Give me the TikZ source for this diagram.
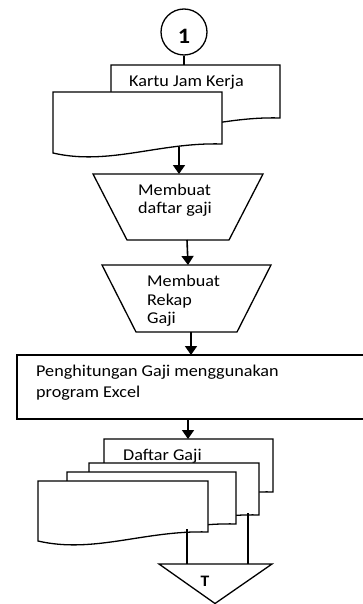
\documentclass[tikz,border=0pt]{standalone}
\usepackage{fontspec}
\setmainfont{Carlito}[FakeStretch=1.1]
\usetikzlibrary{arrows.meta}

% document symbol: left, top, right, bottom at the right side
\newcommand{\docshape}[4]{%
  \draw[shape line,fill=white] (#1,#2) -- (#3,#2) -- (#3,#4)
    .. controls ({#3-0.37*(#3-#1)},{#4-2}) and ({#1+0.33*(#3-#1)},{#4+22}) .. (#1,{#4+9}) -- cycle;}

\tikzset{
  shape line/.style={line width=1.3pt,line join=miter},
  flow/.style={line width=1.6pt,-{Triangle[length=9pt,width=12pt]}},
  txt/.style={anchor=base west,inner sep=0pt,align=left},
}

\begin{document}
\begin{tikzpicture}[x=1pt,y=-1pt,font=\fontsize{16.5}{18.5}\selectfont]
\useasboundingbox (0,0) rectangle (363,604);
% connector
\node[circle,draw,line width=1.3pt,minimum size=46pt,inner sep=0pt,
  text height=24pt,text depth=0pt,font=\fontsize{22}{22}\selectfont\bfseries] (con1) at (184,32) {1};
% Kartu Jam Kerja
\docshape{111}{65}{280}{118}
\node[txt] (kartu) at (129,87) {Kartu Jam Kerja};
\docshape{53}{92}{222}{144}
\coordinate (kartu top) at (184,65);
\coordinate (kartu out) at (179,147);
\draw[shape line] (con1) -- (kartu top);
% proses manual (base = last line)
\draw[shape line] (93,174) -- (263,174) -- (229,240) -- (127,240) -- cycle;
\node[txt,font=\fontsize{16.5}{17.5}\selectfont] (daftar) at (138,213.2) {Membuat\\daftar gaji};
\draw[shape line] (102,265) -- (271,265) -- (237,332) -- (136,332) -- cycle;
\node[txt,font=\fontsize{16.5}{18.3}\selectfont] (rekap) at (147,323.3) {Membuat\\Rekap\\Gaji};
% proses
\draw[shape line] (17,355) rectangle (366,419);
\node[txt,font=\fontsize{16.5}{20.3}\selectfont] (hitung) at (36,397) {Penghitungan Gaji menggunakan\\program Excel};
% Daftar Gaji rangkap
\docshape{104}{439}{273}{492}
\node[txt] (dgaji) at (123,460.7) {Daftar Gaji};
\docshape{89}{463}{259}{515}
\docshape{67}{472}{236}{524}
\docshape{38}{481}{208}{532}
% arsip
\draw[shape line] (159,564) -- (272,564) -- (215,603.5) -- cycle;
\node[inner sep=0pt,font=\fontsize{16}{16}\selectfont\bfseries] (arsip) at (205,581.3) {T};
\coordinate (dg1) at (187,529);
\coordinate (dg2) at (248,513);
\coordinate (arsip1) at (187,564);
\coordinate (arsip2) at (248,564);
\draw[shape line] (dg1) -- (arsip1);
\draw[shape line] (dg2) -- (arsip2);
% alur
\coordinate (daftar in) at (179,174);
\coordinate (daftar out) at (187,240);
\coordinate (rekap in) at (188,265);
\coordinate (rekap out) at (191,332);
\coordinate (hitung in) at (191,355);
\coordinate (hitung out) at (188,419);
\coordinate (dgaji in) at (188,439);
\draw[flow] (kartu out) -- (daftar in);
\draw[flow] (daftar out) -- (rekap in);
\draw[flow] (rekap out) -- (hitung in);
\draw[flow] (hitung out) -- (dgaji in);
\end{tikzpicture}
\end{document}
